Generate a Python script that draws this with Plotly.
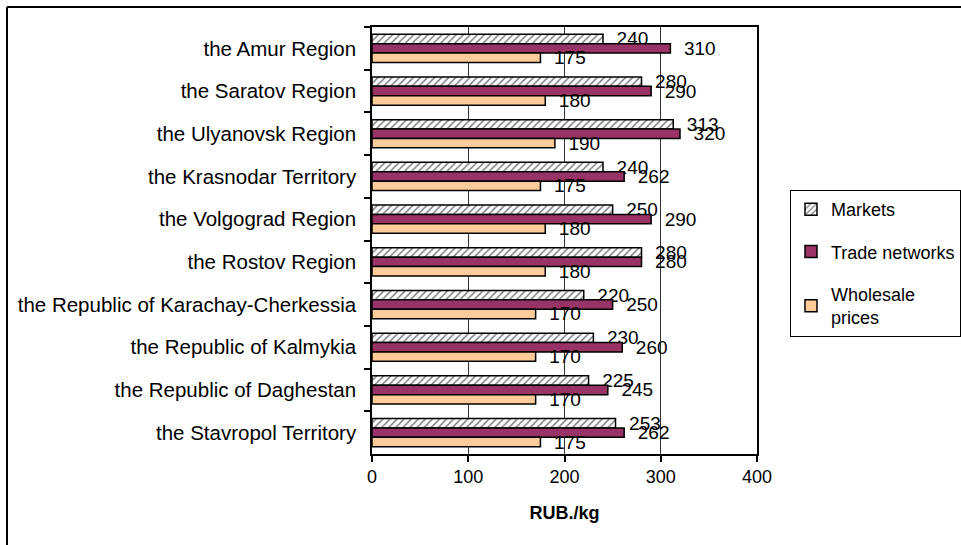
import plotly.graph_objects as go

regions = [
    "the Amur Region",
    "the Saratov Region",
    "the Ulyanovsk Region",
    "the Krasnodar Territory",
    "the Volgograd Region",
    "the Rostov Region",
    "the Republic of Karachay-Cherkessia",
    "the Republic of Kalmykia",
    "the Republic of Daghestan",
    "the Stavropol Territory",
]
markets = [240, 280, 313, 240, 250, 280, 220, 230, 225, 253]
trade_networks = [310, 290, 320, 262, 290, 280, 250, 260, 245, 262]
wholesale = [175, 180, 190, 175, 180, 180, 170, 170, 170, 175]
x_ticks = [0, 100, 200, 300, 400]

FONT = "Liberation Sans, Arial, sans-serif"
W, H = 961, 545
L, R, T, B = 372, 204, 27, 91

fig = go.Figure()
series = [
    ("Markets", markets, dict(color="white", line=dict(color="black", width=1.5),
                              pattern=dict(shape="/", fgcolor="black", bgcolor="white", size=5, solidity=0.3))),
    ("Trade networks", trade_networks, dict(color="#993366", line=dict(color="black", width=1.5))),
    ("Wholesale<br>prices", wholesale, dict(color="#FFCC99", line=dict(color="black", width=1.5))),
]
for i, (name, vals, marker) in enumerate(series):
    fig.add_trace(go.Bar(
        y=regions, x=vals, name=name, orientation="h", marker=marker,
        text=["\u00a0\u00a0" + str(v) for v in vals], textposition="outside",
        textfont=dict(family=FONT, size=19, color="black"),
        constraintext="none", cliponaxis=False,
        legendgroup=str(i),
    ))

pw = W - L - R
ph = H - T - B
fx0 = (7 - L) / pw
fy1 = 1 + (T - 7) / ph
fig.add_shape(type="line", xref="paper", yref="paper", x0=fx0, x1=2, y0=fy1, y1=fy1,
              line=dict(color="black", width=2))
fig.add_shape(type="line", xref="paper", yref="paper", x0=fx0, x1=fx0, y0=fy1, y1=-1,
              line=dict(color="black", width=2))

fig.update_layout(
    width=W, height=H,
    margin=dict(l=L, r=R, t=T, b=B, pad=0, autoexpand=False),
    paper_bgcolor="white", plot_bgcolor="white",
    barmode="group", bargap=0.34, bargroupgap=0,
    font=dict(family=FONT, size=18, color="black"),
    legend=dict(
        xref="container", yref="container",
        x=790 / W, y=1 - 190 / H, xanchor="left", yanchor="top",
        bordercolor="black", borderwidth=1, bgcolor="white",
        font=dict(family=FONT, size=18, color="black"),
        traceorder="grouped", tracegroupgap=16,
        itemwidth=30,
    ),
    showlegend=True,
)
fig.update_xaxes(
    range=[0, 400], tickvals=x_ticks, ticktext=[str(v) for v in x_ticks],
    showgrid=True, gridcolor="#333333", gridwidth=1,
    showline=True, linecolor="black", linewidth=1.5, mirror=True,
    ticks="outside", ticklen=6, tickcolor="black", tickwidth=1.5,
    tickfont=dict(family=FONT, size=18),
    title=dict(text="<b>RUB./kg</b>", font=dict(family=FONT, size=18), standoff=20),
    zeroline=False, automargin=False,
)
fig.update_yaxes(
    autorange="reversed", type="category",
    showline=True, linecolor="black", linewidth=1.5, mirror=True,
    ticks="outside", ticklen=6, tickcolor="black", tickwidth=1.5,
    tickson="boundaries", showgrid=False,
    tickfont=dict(family=FONT, size=20.5),
    ticklabelstandoff=10, automargin=False,
)

fig.write_html("out.html", config={"displayModeBar": False},
               post_script="document.body.style.margin='0';")
